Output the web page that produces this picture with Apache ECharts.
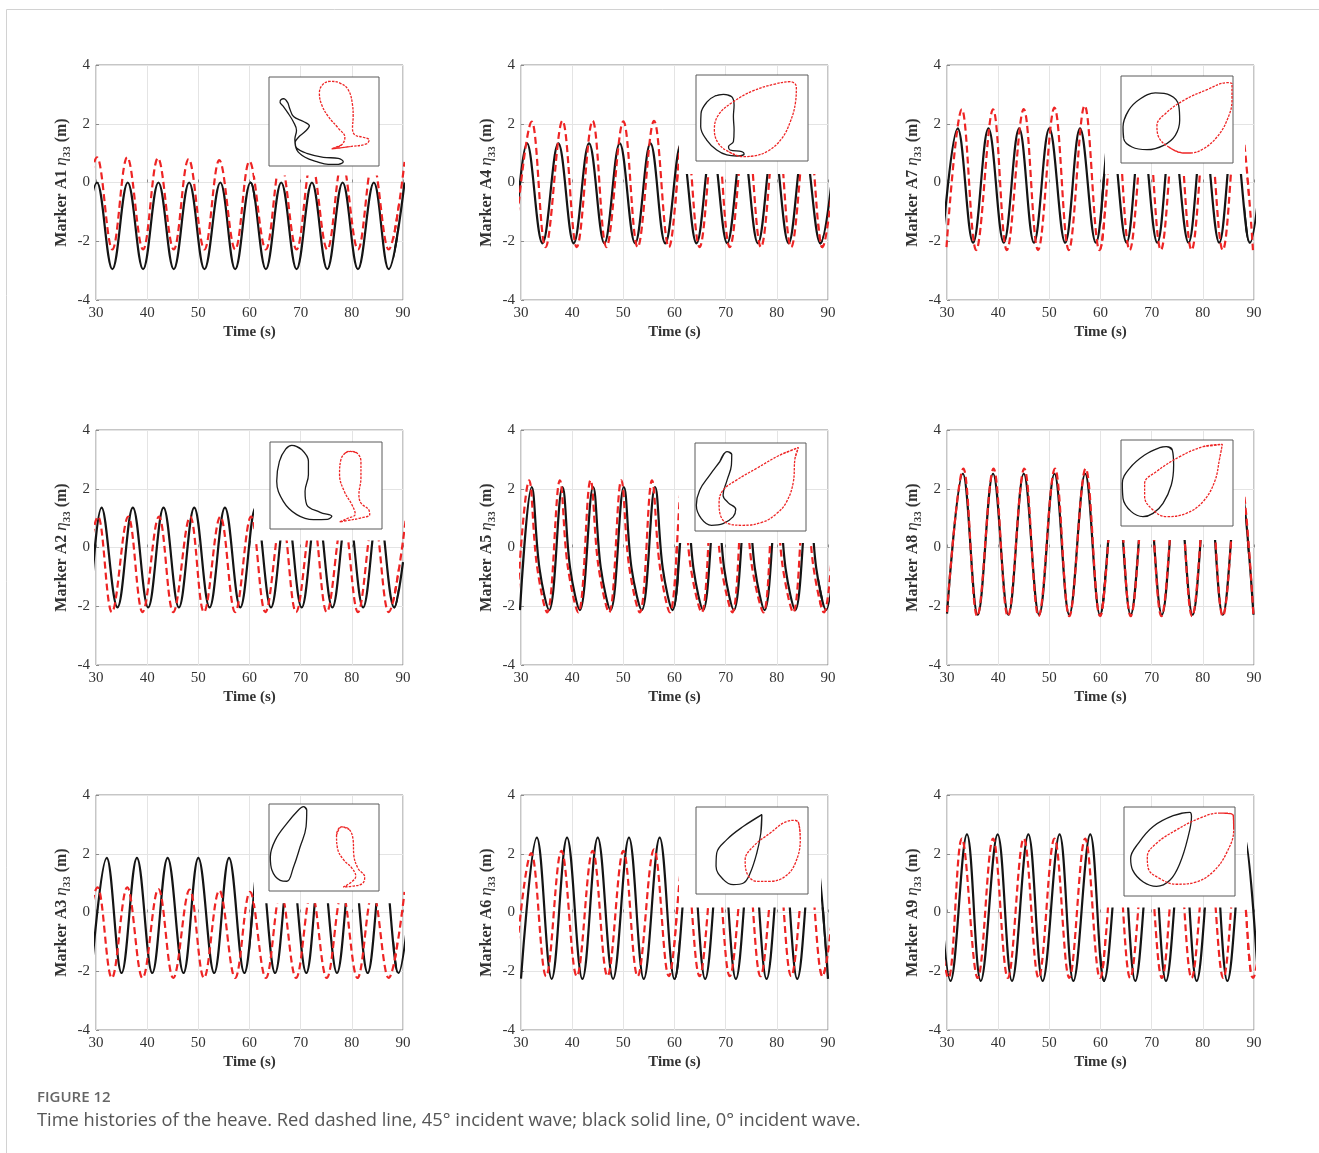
<!DOCTYPE html>
<html><head><meta charset="utf-8">
<script src="https://cdn.jsdelivr.net/npm/echarts@6/dist/echarts.min.js"></script>
<style>html,body{margin:0;padding:0;background:#fff}#c{width:1319px;height:1153px}</style>
</head><body><div id="c"></div>
<script>
// ---------- time-series key points [time (s), heave (m)] ----------
const A1_black=[[27.2,-2.95],[30.2,0],[33.2,-2.95],[36.2,0],[39.2,-2.95],[42.2,0],[45.2,-2.95],[48.2,0],[51.2,-2.95],[54.3,0],[57.2,-2.95],[60.2,0],[63.2,-2.95],[66.2,0],[69.2,-2.95],[72.2,0],[75.2,-2.95],[78.2,0],[81.2,-2.95],[84.3,0],[87.2,-2.95],[90.3,0]];
const A1_red=[[27.2,-2.28],[30.2,0.86],[33.2,-2.28],[36.1,0.86],[39.2,-2.28],[42.1,0.83],[45.2,-2.28],[48.1,0.8],[51.2,-2.28],[54.1,0.76],[57.2,-2.28],[60.0,0.72],[63.2,-2.28],[66.1,0.7],[69.2,-2.28],[72.1,0.7],[75.2,-2.28],[78.1,0.7],[81.2,-2.28],[84.1,0.7],[87.2,-2.28],[90.3,0.7]];
const A4_black=[[28.8,-2.07],[31.2,1.33],[34.2,-2.07],[37.3,1.33],[40.3,-2.07],[43.3,1.33],[46.3,-2.07],[49.3,1.33],[52.3,-2.07],[55.3,1.33],[58.2,-2.07],[61.3,1.33],[64.3,-2.07],[67.3,1.33],[70.3,-2.07],[73.3,1.33],[76.3,-2.07],[79.3,1.33],[82.3,-2.07],[85.3,1.33],[88.5,-2.07],[91.5,1.33]];
const A4_red=[[28.7,-2.2],[32.1,2.07],[34.8,-2.2],[38.1,2.1],[40.9,-2.2],[44.0,2.1],[46.7,-2.2],[50.0,2.08],[52.8,-2.2],[56.0,2.1],[58.9,-2.2],[62.0,2.1],[64.9,-2.2],[68.0,2.1],[70.8,-2.2],[74.0,2.1],[76.9,-2.2],[80.0,2.1],[82.8,-2.2],[86.0,2.1],[88.9,-2.2],[92.0,2.1]];
const A7_black=[[29.1,-2.05],[32.1,1.84],[35.1,-2.05],[38.1,1.84],[41.1,-2.05],[44.1,1.84],[47.0,-2.05],[50.0,1.84],[53.1,-2.05],[56.0,1.84],[59.1,-2.05],[62.0,1.84],[65.1,-2.05],[68.0,1.84],[71.1,-2.05],[74.0,1.84],[77.2,-2.05],[80.1,1.84],[83.2,-2.05],[86.1,1.84],[89.2,-2.05],[92.1,1.84]];
const A7_red=[[29.9,-2.2],[32.9,2.49],[35.7,-2.3],[39.0,2.49],[41.7,-2.3],[45.0,2.5],[47.8,-2.3],[51.0,2.55],[53.8,-2.3],[56.9,2.62],[59.8,-2.3],[62.9,2.5],[65.7,-2.3],[68.9,2.5],[71.8,-2.3],[74.9,2.5],[77.8,-2.3],[80.9,2.5],[83.9,-2.3],[86.9,2.5],[89.8,-2.3]];
const A2_black=[[28.9,-2.04],[31.1,1.36],[34.2,-2.04],[37.2,1.36],[40.2,-2.04],[43.2,1.36],[46.2,-2.04],[49.2,1.36],[52.2,-2.04],[55.2,1.36],[58.2,-2.04],[61.2,1.36],[64.2,-2.04],[67.2,1.36],[70.2,-2.04],[73.2,1.36],[76.2,-2.04],[79.2,1.36],[82.2,-2.04],[85.2,1.36],[88.3,-2.04],[90,-0.5]];
const A2_red=[[27.3,-2.2],[30.4,1.05],[33.1,-2.2],[36.3,1.05],[39.1,-2.2],[42.3,1.05],[45.1,-2.2],[48.4,1.05],[51.1,-2.2],[54.3,1.05],[57.2,-2.2],[60.3,1.05],[63.1,-2.2],[66.3,1.05],[69.1,-2.2],[72.3,1.05],[75.1,-2.2],[78.3,1.05],[81.2,-2.2],[84.3,1.05],[87.2,-2.2],[90.6,1.05]];
const A5_black=[[29.8,-2.13],[32.1,2.06],[33.6,-0.7],[35.5,-2.13],[38.1,2.06],[39.6,-0.7],[41.5,-2.13],[44.1,2.06],[45.6,-0.7],[47.5,-2.13],[50.1,2.06],[51.6,-0.7],[53.6,-2.13],[56.2,2.06],[57.7,-0.7],[59.6,-2.13],[62.2,2.06],[63.7,-0.7],[65.6,-2.13],[68.2,2.06],[69.7,-0.7],[71.6,-2.13],[74.2,2.06],[75.7,-0.7],[77.6,-2.13],[80.2,2.06],[81.7,-0.7],[83.6,-2.13],[86.2,2.06],[87.7,-0.7],[89.6,-2.13],[92.2,2.06]];
const A5_red=[[29.1,-2.21],[31.6,2.29],[33.1,-0.6],[35.1,-2.21],[37.6,2.29],[39.1,-0.6],[41.2,-2.21],[43.6,2.29],[45.1,-0.6],[47.2,-2.21],[49.6,2.29],[51.1,-0.6],[53.2,-2.21],[55.6,2.29],[57.1,-0.6],[59.1,-2.21],[61.6,2.29],[63.1,-0.6],[65.3,-2.21],[67.6,2.29],[69.1,-0.6],[71.3,-2.21],[73.6,2.29],[75.1,-0.6],[77.4,-2.21],[79.6,2.29],[81.1,-0.6],[83.2,-2.21],[85.6,2.29],[87.1,-0.6],[89.2,-2.21],[91.6,2.29]];
const A8_black=[[30.0,-2.25],[33.1,2.51],[36.0,-2.29],[39.0,2.51],[42.0,-2.29],[45.0,2.51],[48.0,-2.29],[51.0,2.51],[53.9,-2.29],[57.0,2.51],[59.9,-2.29],[63.0,2.51],[65.9,-2.29],[69.0,2.51],[72.0,-2.29],[75.0,2.51],[78.0,-2.29],[81.0,2.51],[83.9,-2.29],[87.0,2.51],[89.9,-2.29]];
const A8_red=[[30.0,-2.2],[33.2,2.69],[35.9,-2.34],[39.1,2.69],[41.9,-2.34],[45.1,2.69],[47.9,-2.34],[51.1,2.69],[53.9,-2.34],[57.1,2.69],[59.9,-2.34],[63.1,2.69],[65.9,-2.34],[69.1,2.69],[71.9,-2.34],[75.1,2.69],[77.9,-2.34],[81.1,2.69],[83.9,-2.34],[87.1,2.69],[89.9,-2.34]];
const A3_black=[[29.1,-2.06],[32.1,1.86],[35.0,-2.06],[38.0,1.86],[41.0,-2.06],[44.0,1.86],[47.1,-2.06],[50.0,1.86],[53.1,-2.06],[56.0,1.86],[59.0,-2.06],[62.0,1.86],[65.0,-2.06],[68.0,1.86],[71.1,-2.06],[74.0,1.86],[77.1,-2.06],[80.1,1.86],[83.1,-2.06],[86.1,1.86],[89.1,-2.06],[92.1,1.86]];
const A3_red=[[27.2,-2.23],[30.3,0.86],[33.1,-2.23],[36.1,0.86],[39.1,-2.23],[42.2,0.8],[45.1,-2.23],[48.3,0.78],[51.1,-2.23],[54.1,0.75],[57.2,-2.23],[60.1,0.7],[63.2,-2.23],[66.1,0.7],[69.1,-2.23],[72.1,0.7],[75.1,-2.23],[78.1,0.7],[81.1,-2.23],[84.1,0.7],[87.2,-2.23],[90.3,0.7]];
const A6_black=[[30.0,-2.25],[33.1,2.55],[36.0,-2.26],[39.0,2.55],[42.0,-2.26],[45.0,2.55],[48.0,-2.26],[51.1,2.55],[54.0,-2.26],[57.1,2.55],[60.0,-2.26],[63.1,2.55],[66.0,-2.26],[69.1,2.55],[72.0,-2.26],[75.1,2.55],[78.0,-2.26],[81.1,2.55],[84.0,-2.26],[87.1,2.55],[90.0,-2.26]];
const A6_red=[[28.7,-2.17],[32.0,2.02],[34.9,-2.17],[37.9,2.1],[40.9,-2.17],[44.0,2.1],[46.9,-2.17],[50.0,2.1],[52.8,-2.17],[56.0,2.15],[58.9,-2.17],[62.0,2.1],[64.9,-2.17],[68.0,2.1],[70.8,-2.17],[74.0,2.1],[76.8,-2.17],[80.0,2.1],[82.8,-2.17],[86.0,2.1],[88.9,-2.17],[92.0,2.1]];
const A9_black=[[27.9,2.66],[30.7,-2.33],[33.9,2.66],[36.6,-2.33],[39.9,2.66],[42.7,-2.33],[45.9,2.66],[48.7,-2.33],[52.0,2.66],[54.7,-2.33],[58.0,2.66],[60.7,-2.33],[64.0,2.66],[66.8,-2.33],[70.0,2.66],[72.8,-2.33],[76.0,2.66],[78.8,-2.33],[82.0,2.66],[84.8,-2.33],[88.0,2.66],[90.8,-2.33]];
const A9_red=[[27.0,2.52],[30.3,-2.23],[32.9,2.52],[36.0,-2.23],[39.0,2.52],[41.9,-2.23],[45.0,2.52],[47.9,-2.23],[51.0,2.52],[53.9,-2.23],[57.0,2.52],[59.9,-2.23],[63.0,2.52],[65.8,-2.23],[69.0,2.52],[72.0,-2.23],[75.0,2.52],[77.8,-2.23],[81.0,2.52],[84.0,-2.23],[87.0,2.52],[89.8,-2.23],[93.0,2.52]];

// hidden-window of each trace: [from time, to time, heave level above which the trace is not drawn]
const A1_clip=[60.45,88.6,0.2], A4_clip=[60.55,88.6,0.25], A7_clip=[60.5,88.5,0.25];
const A2_clip=[60.45,88.6,0.2], A5_clip=[60.45,88.6,0.12], A8_clip=[60.5,88.6,0.22];
const A3_clip=[60.5,88.6,0.28], A6_clip=[60.5,89.0,0.13], A9_clip=[60.5,89.0,0.13];

// ---------- inset loops, box-relative coordinates (0-100) ----------
const A1_inBlack=[[10.8,74.4],[13.3,75.6],[16.9,71.4],[18.7,65.0],[22.3,55.6],[31.3,50.0],[36.7,45.1],[32.8,38.7],[26.8,32.3],[23.8,26.3],[25.3,19.9],[34.3,14.3],[49.4,9.8],[63.0,8.6],[67.5,4.9],[63.0,1.9],[53.9,1.9],[43.4,4.9],[32.8,9.8],[25.3,18.0],[23.5,30],[25,40],[22,50],[17,60],[13,67],[10,72]];
const A1_inRed=[[56.9,19.2],[73.5,21.8],[88.6,24.8],[91.0,29.3],[85.5,32.3],[78.0,35.0],[75.9,42.5],[76.5,55.6],[75.9,68.8],[72.0,85.7],[64.5,93.2],[55.4,95.1],[48.8,91.4],[45.8,82.0],[47.9,68.8],[53.9,55.6],[63.0,42.5],[69.0,32.3],[66.0,23.7]];
const A4_inBlack=[[24.5,77.5],[31.9,74.8],[34.0,65.1],[33.4,51.6],[34.0,36.0],[33.4,22.5],[29.0,16.7],[30.4,12.8],[40.9,10.9],[43.0,8.1],[36.4,5.8],[27.5,7.0],[18.5,12.8],[9.6,24.4],[4.2,39.9],[4.5,55.4],[10.1,69.0],[17.0,75.6]];
const A4_inRed=[[42.4,5.0],[29.0,10.9],[20.0,20.5],[16.4,36.0],[20.0,53.5],[33.4,69.0],[51.3,81.8],[69.3,89.1],[84.2,92.2],[89.6,86.4],[88.7,67.1],[84.2,45.7],[76.7,26.4],[64.8,12.0],[51.3,5.8]];
const A7_inBlack=[[1.8,41.4],[6.8,60.5],[17.3,73.9],[30.7,80.5],[44.0,77.8],[51.5,66.3],[52.4,49.0],[48.5,31.8],[38.1,20.3],[23.2,15.3],[9.8,18.4],[2.4,28.0]];
const A7_inRed=[[56.0,11.5],[42.6,18.4],[33.6,29.9],[32.1,43.3],[39.6,56.7],[56.0,72.0],[76.8,84.3],[94.6,92.3],[99.1,91.2],[99.1,72.0],[94.6,49.0],[85.7,29.9],[73.8,16.5],[61.9,11.5]];
const A2_inBlack=[[19.4,96.2],[28.4,91.2],[34.3,77.8],[34.3,62.5],[31.3,43.3],[32.8,28.0],[44.8,19.2],[55.2,14.6],[51.3,11.1],[38.8,10.7],[23.9,16.5],[11.9,31.8],[6.0,54.8],[8.4,77.8],[14.3,92.3]];
const A2_inRed=[[71.6,89.3],[77.6,87.4],[81.2,77.8],[81.2,58.6],[79.4,39.5],[81.2,29.9],[88.1,22.2],[89.0,16.5],[80.6,12.6],[68.7,9.6],[62.1,8.0],[68.7,11.9],[76.1,17.2],[73.1,28.0],[66.3,43.3],[62.1,62.5],[63.3,79.7],[67.2,87.4]];
const A5_inBlack=[[28.9,90.1],[33.1,87.1],[32.8,74.9],[28.9,57.8],[25.3,40.7],[29.8,32.3],[36.7,24.7],[34.3,16.0],[25.3,8.4],[14.8,6.5],[5.7,14.1],[1.2,29.3],[4.2,46.4],[13.3,63.5],[22.3,78.7]];
const A5_inRed=[[93.1,94.7],[90.1,82.5],[88.6,55.9],[82.5,33.1],[73.5,19.8],[61.4,10.3],[43.4,6.5],[29.8,8.4],[22.9,17.9],[21.7,32.3],[25.3,46.4],[37.3,57.8],[55.4,71.1],[76.5,86.3]];
const A8_inBlack=[[40.5,92.2],[45.8,88.4],[47.0,70.9],[44.9,47.7],[37.5,26.4],[28.6,14.7],[19.6,10.9],[9.2,16.7],[1.8,32.2],[1.2,49.6],[7.7,67.1],[21.1,82.6],[34.5,91.1]];
const A8_inRed=[[90.5,95.0],[88.1,78.7],[83.6,51.6],[73.2,28.3],[58.3,14.7],[40.5,10.9],[28.6,18.6],[21.1,34.1],[21.1,49.6],[31.5,63.2],[52.4,80.6],[73.2,92.2]];
const A3_inBlack=[[31.3,96.9],[34.3,93.1],[33.7,73.8],[28.3,50.8],[22.3,27.7],[16.3,11.2],[10.2,12.3],[2.7,23.8],[1.2,39.2],[5.7,58.5],[16.3,77.7],[26.8,93.1]];
const A3_inRed=[[66.0,73.8],[72.9,70.8],[76.5,58.5],[77.1,41.2],[81.0,25.8],[87.0,16.2],[84.9,8.5],[75.0,5.4],[67.5,4.6],[75.0,10.4],[78.9,16.9],[75.0,26.9],[68.1,35.4],[62.3,48.8],[61.4,64.2]];
const A6_inBlack=[[58.8,91.2],[57.9,70.1],[54.3,47.1],[48.4,24.1],[42.4,12.6],[33.4,10.7],[24.5,16.5],[17.9,31.8],[18.5,47.1],[27.5,62.5],[42.4,77.8]];
const A6_inRed=[[91.6,81.6],[93.1,62.5],[88.7,35.6],[79.7,20.3],[66.3,14.6],[54.3,14.6],[45.4,24.1],[43.9,39.5],[51.3,54.8],[66.3,70.1],[81.2,83.5],[88.7,84.7]];
const A9_inBlack=[[59.3,94.0],[60.8,89.4],[57.8,66.8],[50.3,36.6],[41.3,17.7],[29.3,10.9],[17.4,15.8],[7.8,29.1],[6.0,42.3],[12.9,59.2],[26.3,78.1],[44.3,90.2]];
const A9_inRed=[[98.2,91.3],[98.8,74.3],[92.2,47.9],[80.2,27.2],[65.3,15.8],[47.3,13.2],[32.3,19.6],[21.9,30.9],[21.0,44.2],[29.3,59.2],[47.3,74.3],[68.3,87.5],[86.2,93.2]];

const X_TICKS=[30,90,10], Y_TICKS=[-4,4,2];

const PANELS=[
  ['A1',A1_black,A1_red,A1_clip,A1_inBlack,A1_inRed],['A4',A4_black,A4_red,A4_clip,A4_inBlack,A4_inRed],['A7',A7_black,A7_red,A7_clip,A7_inBlack,A7_inRed],
  ['A2',A2_black,A2_red,A2_clip,A2_inBlack,A2_inRed],['A5',A5_black,A5_red,A5_clip,A5_inBlack,A5_inRed],['A8',A8_black,A8_red,A8_clip,A8_inBlack,A8_inRed],
  ['A3',A3_black,A3_red,A3_clip,A3_inBlack,A3_inRed],['A6',A6_black,A6_red,A6_clip,A6_inBlack,A6_inRed],['A9',A9_black,A9_red,A9_clip,A9_inBlack,A9_inRed]
];

// ---------- layout ----------
const COL_LEFT=[96,521,947], ROW_TOP=[65,430,795], PW=307, PH=235;
const INSET_RECT={A1:[269,77,110,89],A4:[696,75,112,86],A7:[1121,76,112,87],A2:[270,442,112,87],A5:[695,443,111,88],A8:[1121,440,112,86],A3:[269,804,110,87],A6:[696,807,112,87],A9:[1124,807,111,89]};
const SERIF='"Liberation Serif","Times New Roman",serif';
const BLACK='#141414', RED='#ee2424', BOX='#8c8c8c';

const grids=[], xAxes=[], yAxes=[], series=[];
function hiddenAxes(gi,x0,x1,y0,y1){
  xAxes.push({gridIndex:gi,type:'value',min:x0,max:x1,show:false});
  yAxes.push({gridIndex:gi,type:'value',min:y0,max:y1,show:false});
}
PANELS.forEach((p,idx)=>{
  const [name,blk,red,clip,inB,inR]=p;
  const r=Math.floor(idx/3), c=idx%3;
  const L=COL_LEFT[c], T=ROW_TOP[r];
  const sx=PW/(X_TICKS[1]-X_TICKS[0]), sy=PH/(Y_TICKS[1]-Y_TICKS[0]);
  let gi=grids.length;
  grids.push({left:L,top:T,width:PW,height:PH,show:true,borderColor:BOX,borderWidth:1,backgroundColor:'#fff',containLabel:false,outerBoundsMode:'none'});
  xAxes.push({gridIndex:gi,type:'value',min:X_TICKS[0],max:X_TICKS[1],interval:X_TICKS[2],
    name:'Time (s)',nameLocation:'middle',nameGap:25,
    nameTextStyle:{fontFamily:SERIF,fontWeight:'bold',fontSize:15,color:'#333'},
    axisLine:{show:false},axisTick:{show:true,inside:true,length:3,lineStyle:{color:BOX}},
    axisLabel:{fontFamily:SERIF,fontSize:15,color:'#333',margin:6,showMinLabel:true,showMaxLabel:true},
    splitLine:{show:true,lineStyle:{color:'#e4e4e4',width:1}}});
  yAxes.push({gridIndex:gi,type:'value',min:Y_TICKS[0],max:Y_TICKS[1],interval:Y_TICKS[2],
    name:'{b|Marker '+name+' }{i|η}{s|33}{b| (m)}',nameLocation:'middle',nameGap:23,
    nameTextStyle:{color:'#333',rich:{
      b:{fontFamily:SERIF,fontWeight:'bold',fontSize:16,color:'#333',lineHeight:22},
      i:{fontFamily:SERIF,fontStyle:'italic',fontSize:17,color:'#333',lineHeight:22},
      s:{fontFamily:SERIF,fontWeight:'bold',fontSize:11,color:'#333',verticalAlign:'bottom'}}},
    axisLine:{show:false},axisTick:{show:true,inside:true,length:3,lineStyle:{color:BOX}},
    axisLabel:{fontFamily:SERIF,fontSize:15,color:'#333',margin:6,showMinLabel:true,showMaxLabel:true},
    splitLine:{show:true,lineStyle:{color:'#e4e4e4',width:1}}});
  const wins=[[X_TICKS[0],clip[0],Y_TICKS[0],Y_TICKS[1]],[clip[0],clip[1],Y_TICKS[0],clip[2]],[clip[1],X_TICKS[1],Y_TICKS[0],Y_TICKS[1]]];
  wins.forEach(w=>{
    gi=grids.length;
    grids.push({left:L+(w[0]-X_TICKS[0])*sx,top:T+(Y_TICKS[1]-w[3])*sy,width:(w[1]-w[0])*sx,height:(w[3]-w[2])*sy,show:false,containLabel:false,outerBoundsMode:'none'});
    hiddenAxes(gi,w[0],w[1],w[2],w[3]);
    series.push({type:'line',xAxisIndex:gi,yAxisIndex:gi,data:blk,smooth:0.38,symbol:'none',silent:true,z:2,
      lineStyle:{color:BLACK,width:2.2}});
    series.push({type:'line',xAxisIndex:gi,yAxisIndex:gi,data:red,smooth:0.38,symbol:'none',silent:true,z:3,
      lineStyle:{color:RED,width:2.2,type:[7,4]}});
  });
  const ir=INSET_RECT[name];
  gi=grids.length;
  grids.push({left:ir[0],top:ir[1],width:ir[2],height:ir[3],show:true,borderColor:'#5a5a5a',borderWidth:1,backgroundColor:'#fff',z:4,containLabel:false,outerBoundsMode:'none'});
  hiddenAxes(gi,0,100,0,100);
  const wrap=a=>[a[a.length-1]].concat(a,[a[0],a[1]]);
  series.push({type:'line',xAxisIndex:gi,yAxisIndex:gi,data:wrap(inB),smooth:0.4,symbol:'none',silent:true,z:5,
    lineStyle:{color:'#1a1a1a',width:1.3}});
  series.push({type:'line',xAxisIndex:gi,yAxisIndex:gi,data:wrap(inR),smooth:0.4,symbol:'none',silent:true,z:5,
    lineStyle:{color:RED,width:1.3,type:[2.5,1.2]}});
});

const chart=echarts.init(document.getElementById('c'),null,{renderer:'canvas'});
chart.setOption({
  animation:false,
  backgroundColor:'#fff',
  grid:grids, xAxis:xAxes, yAxis:yAxes, series:series,
  graphic:[
    {type:'line',silent:true,shape:{x1:6.5,y1:9.5,x2:1319,y2:9.5},style:{stroke:'#d2d2d2',lineWidth:1}},
    {type:'line',silent:true,shape:{x1:6.5,y1:9.5,x2:6.5,y2:1153},style:{stroke:'#d2d2d2',lineWidth:1}},
    {type:'text',silent:true,x:37,y:1098,style:{text:'FIGURE 12',fontFamily:'"Open Sans",sans-serif',fontWeight:600,fontSize:15,fill:'#666',verticalAlign:'middle'}},
    {type:'text',silent:true,x:37,y:1121,style:{text:'Time histories of the heave. Red dashed line, 45° incident wave; black solid line, 0° incident wave.',fontFamily:'"Open Sans",sans-serif',fontSize:18.3,fill:'#555',verticalAlign:'middle'}}
  ]
});
</script></body></html>
